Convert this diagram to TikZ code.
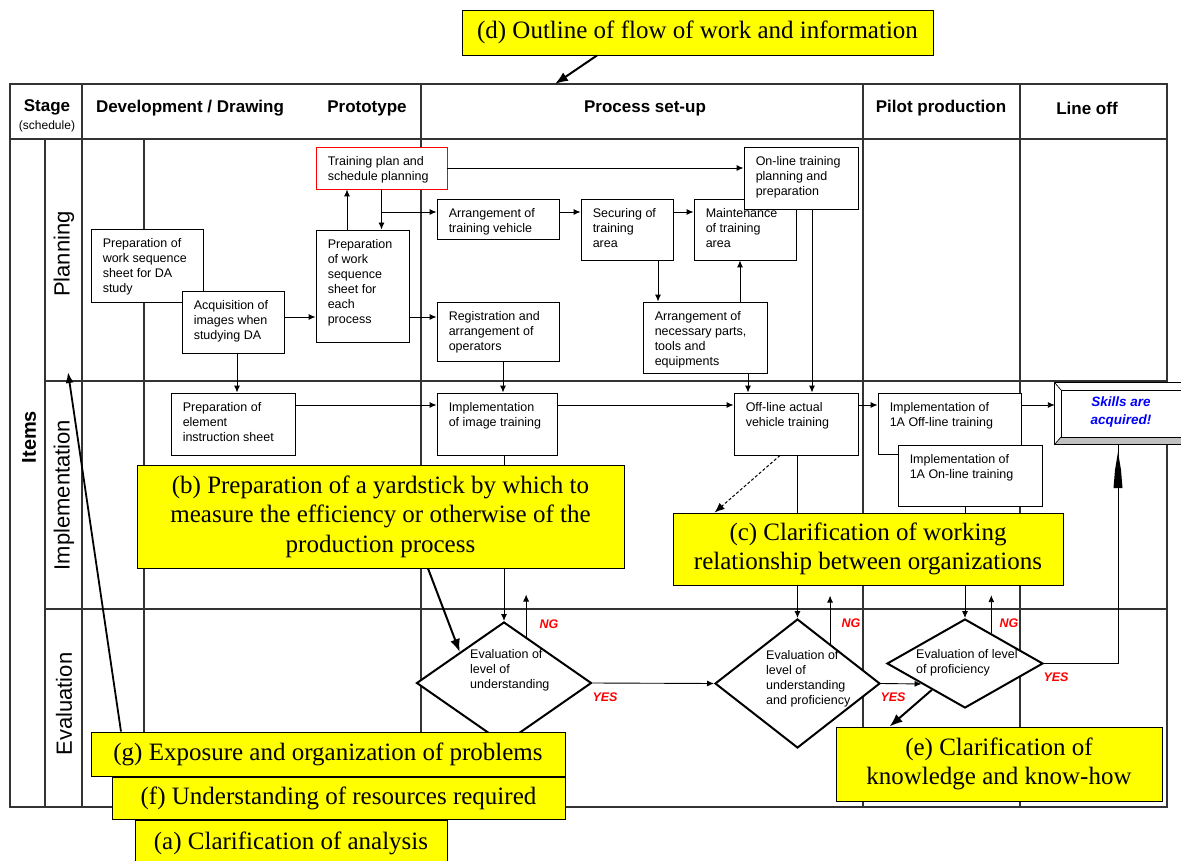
\documentclass[tikz,border=0pt]{standalone}
\usepackage{fontspec}
\setmainfont{Liberation Serif}
\setsansfont{Liberation Sans}
\usetikzlibrary{arrows.meta,shapes.geometric,calc}

\definecolor{callyellow}{HTML}{FFFF00}
\definecolor{ngred}{HTML}{FF0000}
\definecolor{skillblue}{HTML}{0000FF}
\definecolor{gridline}{HTML}{333333}
\definecolor{bevelgray}{HTML}{C0C0C0}

\tikzset{
  gridrule/.style={draw=gridline, line width=1.1pt},
  stepbox/.style={draw=black, line width=0.9pt, fill=white, inner sep=0pt},
  boxtext/.style={anchor=north west, inner sep=0pt, align=left,
    font=\sffamily\fontsize{12.5}{15}\selectfont},
  headtext/.style={font=\sffamily\bfseries\fontsize{17}{20}\selectfont},
  rowtext/.style={font=\sffamily\fontsize{22}{26}\selectfont, rotate=90, inner sep=0pt},
  decision/.style={diamond, draw=black, line width=2pt, fill=white, inner sep=0pt},
  arr/.style={-{Latex[length=7pt,width=6pt]}, line width=0.9pt},
  dasharr/.style={-{Latex[length=10pt,width=8pt]}, line width=1pt, densely dashed},
  callout/.style={draw=black, line width=0.9pt, fill=callyellow, inner sep=0pt,
    align=center, font=\fontsize{25}{29.5}\selectfont},
  callarr/.style={-{Latex[length=13pt,width=10pt]}, line width=2pt},
  verdict/.style={font=\sffamily\bfseries\itshape\fontsize{12.5}{14}\selectfont,
    text=ngred, inner sep=0pt},
}

% box from (x1,y1) to (x2,y2), text set from its top left corner
% #1 extra style, #2 name, #3 x1, #4 y1, #5 x2, #6 y2, #7 text
\newcommand{\flowbox}[7]{%
  \node[stepbox,#1, minimum width={#5pt-#3pt}, minimum height={#6pt-#4pt}]
    (#2) at ({(#3+#5)/2},{(#4+#6)/2}) {};
  \node[boxtext] (#2-t) at ([xshift=12pt,yshift=-10pt]#2.north west) {#7};
}
% yellow remark box: #1 name, #2 x1, #3 y1, #4 x2, #5 y2, #6 text
\newcommand{\remarkbox}[6]{%
  \node[callout, minimum width={#4pt-#2pt}, minimum height={#5pt-#3pt}]
    (#1) at ({(#2+#4)/2},{(#3+#5)/2}) {#6};
}

\begin{document}
\begin{tikzpicture}[x=1pt,y=-1pt]
\useasboundingbox (0,0) rectangle (1181,861);

% ---- table grid ----
\draw[gridrule] (10,84) rectangle (1167,807);
\draw[gridrule] (10,139) -- (1167,139);
\draw[gridrule] (82,84) -- (82,807);
\draw[gridrule] (421,84) -- (421,807);
\draw[gridrule] (863,84) -- (863,807);
\draw[gridrule] (1020,84) -- (1020,807);
\draw[gridrule] (45,139) -- (45,807);
\draw[gridrule] (144,139) -- (144,807);
\draw[gridrule] (45,381) -- (1167,381);
\draw[gridrule] (45,609) -- (1167,609);

% ---- header ----
\node[headtext] (h-stage) at (47,107) {Stage};
\node[font=\sffamily\fontsize{12}{14}\selectfont] (h-sched) at (47,126) {(schedule)};
\node[headtext] (h-dev) at (190,108) {Development / Drawing};
\node[headtext] (h-proto) at (367,108) {Prototype};
\node[headtext] (h-setup) at (645,108) {Process set-up};
\node[headtext] (h-pilot) at (941,108) {Pilot production};
\node[headtext] (h-lineoff) at (1087,108) {Line off};

% ---- row labels ----
\node[font=\sffamily\bfseries\fontsize{20}{24}\selectfont, rotate=90] (items) at (29,437) {Items};
\node[rowtext] (r-plan) at (64,254) {Planning};
\node[rowtext] (r-impl) at (64,495) {Implementation};
\node[rowtext] (r-eval) at (64,704) {Evaluation};

% ---- planning row ----
\flowbox{}{prepDA}{91}{229}{203}{302}{Preparation of\\work sequence\\sheet for DA\\study}
\flowbox{}{acq}{182}{291}{284}{353}{Acquisition of\\images when\\studying DA}
\flowbox{draw=red}{plan}{316}{147}{447}{189}{Training plan and\\schedule planning}
\flowbox{}{prepEach}{316}{230}{409}{342}{Preparation\\of work\\sequence\\sheet for\\each\\process}
\flowbox{}{vehicle}{437}{199}{559}{239}{Arrangement of\\training vehicle}
\flowbox{}{registr}{437}{302}{559}{361}{Registration and\\arrangement of\\operators}
\flowbox{}{secure}{581}{199}{673}{260}{Securing of\\training\\area}
\flowbox{}{maint}{694}{199}{796}{260}{Maintenance\\of training\\area}
\flowbox{}{online}{744}{147}{858}{209}{On-line training\\planning and\\preparation}
\flowbox{}{parts}{643}{302}{767}{373}{Arrangement of\\necessary parts,\\tools and\\equipments}

% ---- implementation row ----
\flowbox{}{elem}{171}{393}{295}{455}{Preparation of\\element\\instruction sheet}
\flowbox{}{imgtr}{437}{393}{557}{455}{Implementation\\of image training}
\flowbox{}{offl}{734}{393}{858}{455}{Off-line actual\\vehicle training}
\flowbox{}{offA}{878}{393}{1021}{454}{Implementation of\\1A Off-line  training}
\flowbox{}{onA}{898}{445}{1042}{506}{Implementation of\\1A On-line  training}

% raised "skills" panel
\node[inner sep=0pt, fill=white, minimum width=126pt, minimum height=61pt] (skills) at (1118,413.5) {};
\fill[bevelgray] (1061,437) -- (1181,437) -- (1181,444) -- (1055,444) -- cycle;
\draw[line width=0.9pt] (skills.north east) -- (skills.north west) -- (skills.south west) -- (skills.south east);
\draw[line width=0.9pt] (1181,390) -- (1061,390) -- (1061,437) -- (1181,437);
\draw[line width=0.7pt] (skills.north west) -- (1061,390);
\draw[line width=0.7pt] (skills.south west) -- (1061,437);
\node[align=center, text=skillblue, font=\sffamily\bfseries\itshape\fontsize{13.5}{18}\selectfont]
  (skills-t) at (1121,412) {Skills are\\acquired!};

% ---- evaluation row ----
\node[decision, minimum width=175pt, minimum height=122pt] (d1) at (504,683) {};
\node[decision, minimum width=165pt, minimum height=129pt] (d2) at (797.5,683.5) {};
\node[decision, minimum width=156pt, minimum height=89pt] (d3) at (965,663.5) {};
\node[boxtext] (d1-t) at (470,649) {Evaluation of\\level of\\understanding};
\node[boxtext] (d2-t) at (766,650) {Evaluation of\\level of\\understanding\\and proficiency};
\node[boxtext] (d3-t) at (916,649) {Evaluation of level\\of proficiency};

% ---- connectors ----
\coordinate (a1) at ([yshift=5pt]acq.east);
\draw[arr] (a1) -- (a1 -| prepEach.west);
\coordinate (c2) at ([xshift=-15.5pt]prepEach.north);
\draw[arr] (c2) -- (c2 |- plan.south);
\draw[arr] (plan.south) -- (plan.south |- prepEach.north);
\coordinate (vin) at ([yshift=7pt]vehicle.west);
\draw[arr] (vin -| plan.south) -- (vin);
\draw[arr] (a1 -| prepEach.east) -- (a1 -| registr.west);
\draw[arr] (plan.east) -- (plan.east -| online.west);
\draw[arr] (vin -| vehicle.east) -- (vin -| secure.west);
\draw[arr] (vin -| secure.east) -- (vin -| maint.west);
\coordinate (sp) at ([xshift=31pt]secure.south);
\draw[arr] (sp) -- (sp |- parts.north);
\coordinate (pm) at ([xshift=35pt]parts.north);
\draw[arr] (pm) -- (pm |- maint.south);
\coordinate (oo) at ([xshift=11pt]online.south);
\draw[arr] (oo) -- (oo |- offl.north);
\coordinate (ri) at ([xshift=5pt]registr.south);
\draw[arr] (ri) -- (ri |- imgtr.north);
\coordinate (po) at ([xshift=43pt]parts.south);
\draw[arr] (po) -- (po |- offl.north);
\coordinate (ae) at ([xshift=4pt]acq.south);
\draw[arr] (ae) -- (ae |- elem.north);
\coordinate (ei) at ([yshift=19pt]elem.east);
\draw[arr] (ei) -- (ei -| imgtr.west);
\draw[arr] (ei -| imgtr.east) -- (ei -| offl.west);
\draw[arr] (ei -| offl.east) -- (ei -| offA.west);
\draw[arr] (ei -| offA.east) -- (ei -| skills.west);

\draw[arr] (d1.north |- imgtr.south) -- (d1.north);
\draw[arr] (d2.north |- offl.south) -- (d2.north);
\draw[arr] (d3.north |- onA.south) -- (d3.north);

% rework loops (NG)
\draw[arr] ($(d1.north)!0.25!(d1.east)$) -- ++(0,-42);
\draw[arr] ($(d2.north)!0.39!(d2.east)$) -- ++(0,-48);
\draw[arr] ($(d3.north)!0.333!(d3.east)$) -- ++(0,-38);
\node[verdict] (ng1) at (549,624) {NG};
\node[verdict] (ng2) at (851,623) {NG};
\node[verdict] (ng3) at (1009,623) {NG};

% pass paths (YES)
\draw[arr] (d1.east) -- (d2.west);
\draw[arr] (d2.east) -- ($(d3.west)!0.45!(d3.south)$);
\draw[line width=0.9pt] (d3.east) -| (skills.south);
\fill (1118,452) -- (1121,470) -- (1122.5,488) -- (1113.5,488) -- (1115,470) -- cycle;
\node[verdict] (yes1) at (605,697) {YES};
\node[verdict] (yes2) at (893,697) {YES};
\node[verdict] (yes3) at (1056,677) {YES};

% ---- remarks ----
\remarkbox{dbox}{462}{10}{933}{55}{(d) Outline of flow of work and information}
\remarkbox{bbox}{137}{465}{624}{568}{(b) Preparation of a yardstick by which to\\measure the efficiency or otherwise of the\\production process}
\remarkbox{cbox}{673}{513}{1063}{585}{(c) Clarification of working\\relationship between organizations}
\remarkbox{ebox}{836}{727}{1162}{801}{(e) Clarification of\\knowledge and know-how}
\remarkbox{gbox}{91}{732}{565}{776}{(g) Exposure and organization of problems}
\remarkbox{fbox}{112}{777}{565}{819}{(f) Understanding of resources required}
\remarkbox{abox}{135}{820}{447}{866}{(a) Clarification of analysis}

\coordinate (frametop) at (555,84);
\coordinate (stagemark) at (68,372);
\draw[callarr] ([xshift=-100.5pt]dbox.south) -- (frametop);
\draw[callarr] ([xshift=47.5pt]bbox.south) -- ($(d1.north)!0.5!(d1.west)$);
\draw[dasharr] ([xshift=-16pt]offl.south) -- ([xshift=42pt]cbox.north west);
\draw[callarr] ($(d3.west)!0.58!(d3.south)$) -- ([xshift=54pt]ebox.north west);
\draw[-{Latex[length=11pt,width=8pt]}, line width=1.8pt] ([xshift=-207pt]gbox.north) -- (stagemark);
\end{tikzpicture}
\end{document}
